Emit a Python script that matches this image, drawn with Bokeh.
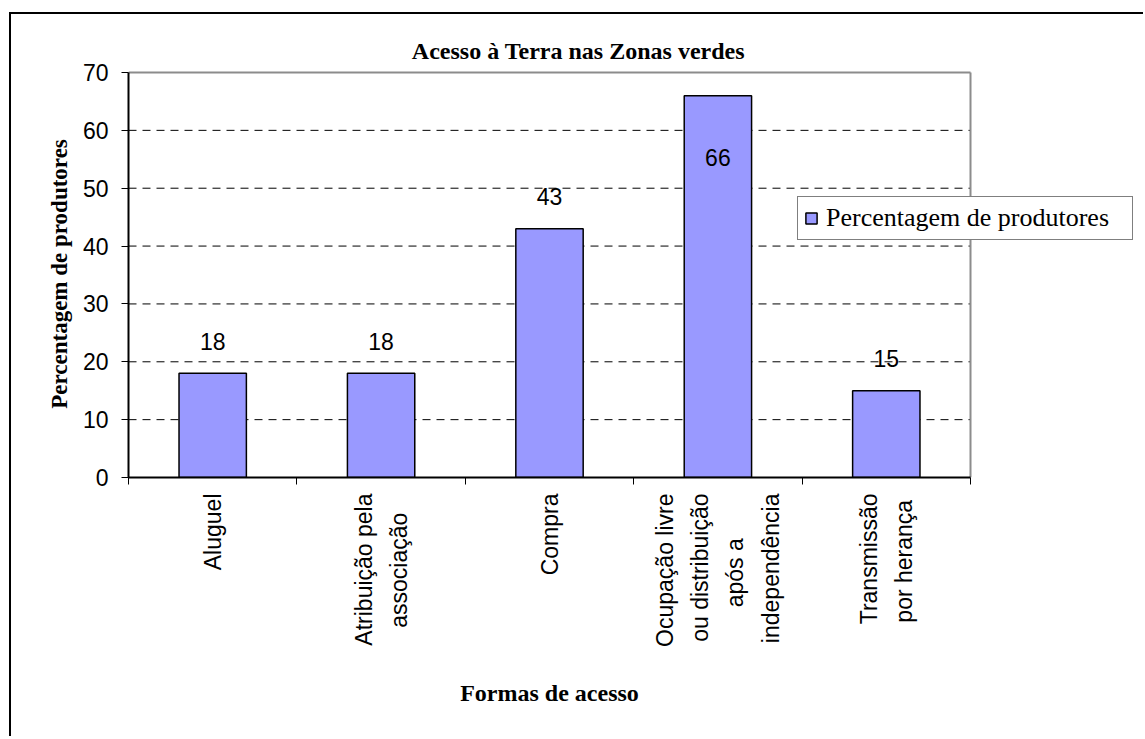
import math
from bokeh.plotting import figure
from bokeh.models import (Range1d, FixedTicker, Legend, LegendItem, ColumnDataSource, Title)
from bokeh.embed import file_html
from bokeh.resources import INLINE
from bokeh.core.properties import value

categories = ["Aluguel", "Atribuição pela\nassociação", "Compra",
              "Ocupação livre\nou distribuição\napós a\nindependência",
              "Transmissão\npor herança"]
percentages = [18, 18, 43, 66, 15]
y_ticks = [0, 10, 20, 30, 40, 50, 60, 70]
title_text = "Acesso à Terra nas Zonas verdes"
x_label = "Formas de acesso"
y_label = "Percentagem de produtores"
legend_label = "Percentagem de produtores"

Y_MAX = 70
N = len(categories)
xs = [i + 0.5 for i in range(N)]
label_offsets = [-32 if v + 10 <= Y_MAX else 62 for v in percentages]

src = ColumnDataSource(dict(x=xs, top=percentages, txt=[str(v) for v in percentages],
                            yoff=label_offsets))

# --- centre the lines of multi-line tick labels (Bokeh aligns them at the axis end)
ARIAL_W = {" ": 278, "a": 556, "b": 556, "c": 500, "d": 556, "e": 556, "g": 556,
           "h": 556, "i": 222, "l": 222, "m": 833, "n": 556, "o": 556, "p": 556,
           "r": 333, "s": 500, "t": 278, "u": 556, "v": 500, "ç": 500, "ã": 556,
           "ó": 556, "ê": 556, "A": 667, "C": 722, "O": 778, "T": 611}


def text_w(s):
    return sum(ARIAL_W.get(ch, 556) for ch in s)


def centre_lines(label):
    lines = label.split("\n")
    longest = max(text_w(l) for l in lines)
    out = []
    for l in lines:
        pad = round((longest - text_w(l)) / 2 / ARIAL_W[" "])
        out.append(l + "\u00a0" * pad)
    return "\n".join(out)


tick_text = [centre_lines(c) for c in categories]

# geometry (canvas pixels)
W, H = 1134, 724
FL, FR_PLOT, FT, FB = 117, 959, 58, 463      # plot area edges
HEAD = 2                                      # px of headroom above plot top (for border line)
PLOT_W = FR_PLOT - FL
x_end = N * (W - FL) / PLOT_W                 # frame extends right so legend can overlap
y_end = Y_MAX * (FB - FT + HEAD) / (FB - FT)

p = figure(width=W, height=H, output_backend="svg", toolbar_location=None,
           x_range=Range1d(0, x_end), y_range=Range1d(0, y_end),
           min_border_left=FL, min_border_right=0,
           min_border_top=FT - HEAD, min_border_bottom=H - FB,
           background_fill_color="white", border_fill_color="white")
p.styles = {"border-left": "2px solid black", "border-top": "2px solid black",
            "margin-left": "9px", "margin-top": "12px"}
p.outline_line_color = None
p.xgrid.visible = False
p.ygrid.visible = False

TITLE_PX = 24
TITLE_CENTRE = 451          # chart-area centre, px right of the plot's left edge
p.title.text = title_text
p.title.align = "left"
p.title.offset = TITLE_CENTRE - 13.97 * TITLE_PX / 2
p.title.text_font = "Liberation Serif"
p.title.text_font_size = f"{TITLE_PX}px"
p.title.text_font_style = "bold"
p.title.text_color = "black"
p.title.standoff = 13

# dashed gridlines and gray top/right border of the plot area
grid_vals = y_ticks[1:-1]
p.segment(x0=[0] * len(grid_vals), x1=[N] * len(grid_vals), y0=grid_vals, y1=grid_vals,
          line_color="black", line_width=1, line_dash="8 6", level="underlay")
p.segment(x0=[0, N], x1=[N, N], y0=[Y_MAX, 0], y1=[Y_MAX, Y_MAX],
          line_color="#8c8c8c", line_width=2, level="underlay")

bars = p.vbar(x="x", top="top", width=0.4, source=src, fill_color="#9999FF",
              line_color="black", line_width=1.5)

p.text(x="x", y="top", text="txt", y_offset="yoff", source=src,
       text_align="center", text_baseline="middle",
       text_font=value("Liberation Sans"), text_font_size="23px", text_color="black")

# y axis
p.yaxis.bounds = (0, Y_MAX)
p.yaxis.ticker = FixedTicker(ticks=y_ticks)
p.yaxis.axis_line_color = "black"
p.yaxis.axis_line_width = 2
p.yaxis.major_tick_in = 0
p.yaxis.major_tick_out = 7
p.yaxis.major_tick_line_color = "black"
p.yaxis.minor_tick_line_color = None
p.yaxis.major_label_text_font = "Liberation Sans"
p.yaxis.major_label_text_font_size = "23px"
p.yaxis.major_label_text_color = "black"
p.yaxis.major_label_standoff = 13
p.yaxis.axis_label = y_label
p.yaxis.axis_label_text_font = "Liberation Serif"
p.yaxis.axis_label_text_font_size = "23px"
p.yaxis.axis_label_text_font_style = "bold"
p.yaxis.axis_label_text_color = "black"
p.yaxis.axis_label_standoff = 8

# x axis
p.xaxis.bounds = (0, N)
p.xaxis.ticker = FixedTicker(ticks=xs, minor_ticks=list(range(N + 1)))
p.xaxis.major_label_overrides = {x: c for x, c in zip(xs, tick_text)}
p.xaxis.major_label_orientation = math.pi / 2
p.xaxis.major_tick_line_color = None
p.xaxis.major_tick_out = 7
p.xaxis.major_tick_in = 0
p.xaxis.minor_tick_line_color = "black"
p.xaxis.minor_tick_out = 7
p.xaxis.minor_tick_in = 0
p.xaxis.axis_line_color = "black"
p.xaxis.axis_line_width = 2
p.xaxis.major_label_text_font = "Liberation Sans"
p.xaxis.major_label_text_font_size = "23px"
p.xaxis.major_label_text_color = "black"
p.xaxis.major_label_text_line_height = 1.35
p.xaxis.major_label_standoff = 9

XL_PX = 24
xtitle = Title(text=x_label, align="left", offset=PLOT_W / 2 - 7.443 * XL_PX / 2,
               text_font="Liberation Serif", text_font_size=f"{XL_PX}px",
               text_font_style="bold", text_color="black", standoff=57)
p.add_layout(xtitle, "below")

legend = Legend(items=[LegendItem(label=legend_label, renderers=[bars])],
                location=(669, 237))
legend.label_text_font = "Liberation Serif"
legend.label_text_font_size = "26px"
legend.label_text_color = "black"
legend.label_width = 300
legend.glyph_width = 14
legend.glyph_height = 14
legend.label_standoff = 8
legend.padding = 6
legend.margin = 0
legend.border_line_color = "black"
legend.border_line_width = 1
legend.background_fill_alpha = 1
p.add_layout(legend, "center")

open("out.html", "w").write(file_html(p, INLINE))
